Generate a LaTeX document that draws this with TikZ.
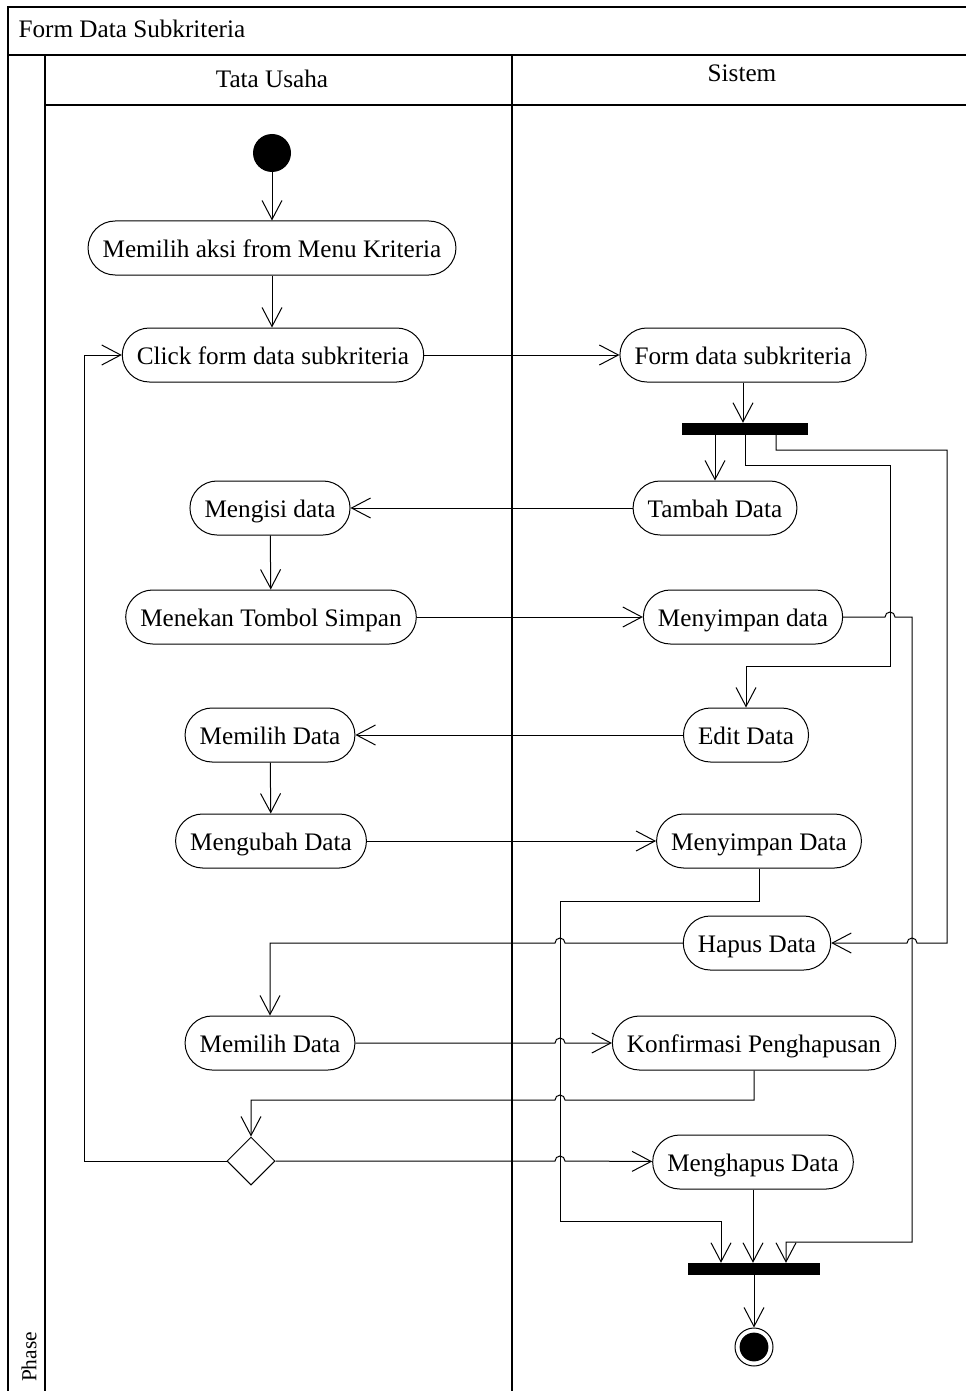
\documentclass[tikz,border=0pt]{standalone}
\usepackage{fontspec}
\setmainfont{Liberation Serif}
\usetikzlibrary{arrows.meta, shapes.geometric}

\begin{document}
\begin{tikzpicture}[x=0.5pt, y=-0.5pt, line width=0.5pt,
        >={Straight Barb[length=9.5pt,width=10pt]},
        every node/.style={font=\fontsize{12.6}{15}\selectfont},
        action/.style={draw, rounded corners=13.5pt, minimum height=27pt, inner xsep=7.3pt, inner ysep=0pt,
            text height=10.5pt, text depth=1pt},
        bar/.style={fill=black, inner sep=0pt, minimum width=#1, minimum height=5.7pt},
        lane/.style={line width=0.8pt}]
                \useasboundingbox (0,0) rectangle (966,1391);
                \draw[lane] (8,1391) -- (8,7) -- (966,7);
                \draw[lane] (8,55) -- (966,55);
                \draw[lane] (45,55) -- (45,1391);
                \draw[lane] (45,105) -- (966,105);
                \draw[lane] (512,55) -- (512,1391);
                \node[anchor=base west, inner sep=0pt] (judul) at (18,38) {Form Data Subkriteria};
                \node[anchor=base, inner sep=0pt] (tu) at (272,88) {Tata Usaha};
                \node[anchor=base, inner sep=0pt] (sistem) at (742,82) {Sistem};
                \node[rotate=90, inner sep=0pt, font=\fontsize{10.7}{13}\selectfont] (phase) at (29,1357) {Phase};

                \node[circle, fill=black, minimum size=19pt, inner sep=0pt] (init) at (272,153) {};
                \node[action] (pilihaksi) at (272,248) {Memilih aksi from Menu Kriteria};
                \node[action] (klikform) at (273,355) {Click form data subkriteria};
                \node[action] (formsub) at (743,355) {Form data subkriteria};
                \node[bar=63pt] (fork) at (745,429) {};
                \node[action] (tambah) at (715,508) {Tambah Data};
                \node[action] (isidata) at (270,508) {Mengisi data};
                \node[action] (tekansimpan) at (271,617) {Menekan Tombol Simpan};
                \node[action] (simpandata) at (743,617) {Menyimpan data};
                \node[action] (edit) at (746,735) {Edit Data};
                \node[action] (pilihdata) at (270,735) {Memilih Data};
                \node[action] (ubahdata) at (271,841) {Mengubah Data};
                \node[action] (simpanubah) at (759,841) {Menyimpan Data};
                \node[action] (hapus) at (757,943) {Hapus Data};
                \node[action] (pilihhapus) at (270,1043) {Memilih Data};
                \node[action] (konfirmasi) at (754,1043) {Konfirmasi Penghapusan};
                \node[diamond, draw, aspect=1, minimum size=24pt, inner sep=0pt] (dec) at (251,1161) {};
                \node[action] (menghapus) at (753,1162) {Menghapus Data};
                \node[bar=66pt] (join) at (754,1269) {};
                \node[circle, draw, minimum size=19pt, inner sep=0pt,
                    path picture={\fill (path picture bounding box.center) circle (7.2pt);}] (final) at (754,1347) {};

                \draw[->] (init) -- (pilihaksi);
                \draw[->] (pilihaksi) -- (pilihaksi |- klikform.north);
                \draw[->] (klikform) -- (formsub);
                \draw[->] (formsub) -- (formsub |- fork.north);
                \draw[->] (tambah |- fork.south) -- (tambah);
                \draw[->] (fork.south) |- (890,465) -- (890,666) -| (edit);
                \draw[->] ([xshift=15.5pt]fork.south) |- (947,450) -- (947,943) -- (917,943) arc[start angle=0, end angle=180, radius=2.5pt] -- (hapus);
                \draw[->] (tambah) -- (isidata);
                \draw[->] (isidata) -- (tekansimpan);
                \draw[->] (tekansimpan) -- (simpandata);
                \draw[->] (simpandata) -- (885,617) arc[start angle=180, end angle=0, radius=2.5pt] -- (912,617) -- (912,1242) -| ([xshift=16pt]join.north);
                \draw[->] (edit) -- (pilihdata);
                \draw[->] (pilihdata) -- (ubahdata);
                \draw[->] (ubahdata) -- (simpanubah);
                \draw[->] (simpanubah) |- (560,901) -- (560,1221) -| ([xshift=-16.5pt]join.north);
                \draw[->] (hapus) -- (565,943) arc[start angle=0, end angle=180, radius=2.5pt] -| (pilihhapus);
                \draw[->] (pilihhapus) -- (555,1043) arc[start angle=180, end angle=0, radius=2.5pt] -- (konfirmasi);
                \draw[->] (konfirmasi) |- (565,1100) arc[start angle=0, end angle=180, radius=2.5pt] -| (dec);
                \draw[->] (dec) -- (555,1161) arc[start angle=180, end angle=0, radius=2.5pt] -- (menghapus);
                \draw[->] (dec) -| (84,355) -- (klikform);
                \draw[->] (menghapus) -- (menghapus |- join.north);
                \draw[->] (join) -- (final);
            \end{tikzpicture}
\end{document}
